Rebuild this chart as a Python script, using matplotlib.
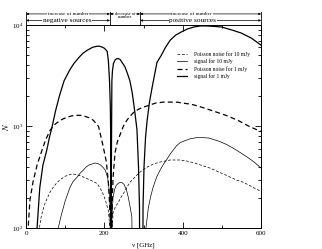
import matplotlib
matplotlib.use('Agg')
import matplotlib.pyplot as plt
from matplotlib.ticker import MultipleLocator, LogLocator, NullFormatter

plt.rcParams['font.family'] = ['Liberation Serif', 'DejaVu Serif']
plt.rcParams['mathtext.fontset'] = 'stix'

# frequencies [GHz] and number of sources
# (N = 1 marks a zero crossing; it lies far below the axis)
nu_sig1 = [25, 28, 35, 43, 53, 60, 66, 75, 85, 97, 112, 122, 135, 145, 156, 170, 181, 188, 195, 200, 207, 210,
           213, 215, 216, 216.8, 217,
           217.6, 218.3, 219, 220.5, 223, 228, 234, 240, 245, 252, 258, 265, 271, 278, 283, 287, 289.5, 291,
           297, 298.5, 301, 305, 309, 315, 322, 334, 345, 356, 368, 382, 396, 412, 429, 445, 460, 480, 498,
           525, 549, 575, 600]
n_sig1 = [30, 100, 251, 417, 589, 794, 977, 1413, 1995, 2818, 3631, 4169, 4786, 5248, 5623, 6026, 6166, 6166, 6026,
          5888, 5495, 4467, 2818, 1585, 794, 158, 1,
          316, 1000, 2818, 3548, 4169, 4571, 4677, 4571, 4266, 3890, 3388, 2818, 2138, 1349, 933, 398, 158, 1,
          1, 158, 398, 794, 1148, 1738, 2455, 4266, 5012, 6026, 7079, 7943, 8511, 9120, 9550, 9772, 9772, 9660,
          9550, 8913, 8318, 7413, 6310]

nu_noise1 = [4, 6, 10, 18, 28, 40, 50, 61, 70, 80, 92, 104, 117, 130, 140, 150, 162, 172, 185, 197, 205, 210, 213,
             215, 217,
             219.5, 222, 227, 233, 240, 248, 257, 265, 275, 287, 299, 315, 330, 350, 370, 385, 400, 420, 440, 472,
             510, 541, 570, 600]
n_noise1 = [32, 112, 191, 288, 417, 575, 741, 912, 1023, 1096, 1175, 1230, 1274, 1288, 1288, 1259, 1216, 1148, 1000,
            631, 447, 282, 178, 100, 1,
            158, 316, 550, 708, 832, 1000, 1148, 1259, 1380, 1479, 1549, 1622, 1698, 1738, 1738, 1738, 1698, 1660,
            1585, 1445, 1288, 1148, 1000, 891]

nu_sig10 = [80, 82, 90, 100, 112, 120, 130, 138, 146, 153, 160, 168, 176, 183, 190, 196, 202, 208, 212, 215, 217,
            219, 222, 226, 230, 235, 240, 245, 250, 256, 261, 266, 270, 274, 303, 306, 312, 318, 324, 333, 342, 351,
            360, 368, 376, 384, 393, 405, 420, 435, 452, 466, 480, 496, 513, 527, 540, 552, 564, 575, 585, 600]
n_sig10 = [60, 100, 135, 186, 251, 288, 316, 347, 372, 398, 417, 427, 437, 432, 417, 398, 372, 316, 240, 141, 1,
           126, 200, 240, 263, 275, 282, 280, 269, 240, 200, 158, 129, 1, 1, 100, 158, 204, 251, 316, 372, 427,
           479, 537, 589, 646, 692, 724, 759, 776, 776, 770, 741, 708, 661, 617, 575, 537, 501, 468, 437, 389]

nu_noise10 = [30, 34, 38, 43, 49, 55, 62, 69, 77, 85, 92, 100, 107, 115, 125, 135, 148, 160, 171, 181, 188, 195,
              203, 210, 214, 217,
              220, 222, 228, 235, 242, 250, 257, 265, 275, 285, 297, 309, 325, 342, 355, 368, 380, 393, 410, 430,
              450, 470, 487, 505, 522, 539, 555, 570, 585, 600]
n_noise10 = [50, 100, 126, 151, 178, 200, 229, 251, 275, 295, 309, 324, 331, 339, 339, 331, 316, 302, 288, 275,
             251, 224, 186, 148, 100, 1,
             100, 141, 162, 178, 200, 224, 251, 282, 309, 339, 372, 398, 427, 447, 457, 468, 468, 468, 457, 437,
             412, 389, 363, 339, 316, 295, 282, 263, 245, 229]

labels = ['Poisson noise for 10 mJy', 'signal for 10 mJy', 'Poisson noise for 1 mJy', 'signal for 1 mJy']

fig = plt.figure(figsize=(3.22, 2.49), dpi=100)
ax = fig.add_axes([0.081, 0.084, 0.730, 0.816])

ax.plot(nu_noise10, n_noise10, color='k', lw=0.5, dashes=(4, 2.5), label=labels[0])
ax.plot(nu_sig10, n_sig10, color='k', lw=0.5, label=labels[1])
ax.plot(nu_noise1, n_noise1, color='k', lw=0.9, dashes=(4, 2.5), label=labels[2])
ax.plot(nu_sig1, n_sig1, color='k', lw=0.9, label=labels[3])

ax.set_yscale('log')
ax.set_xlim(0, 600)
ax.set_ylim(100, 10000)
ax.xaxis.set_major_locator(MultipleLocator(200))
ax.xaxis.set_minor_locator(MultipleLocator(100))
ax.yaxis.set_minor_locator(LogLocator(subs=range(2, 10)))
ax.yaxis.set_minor_formatter(NullFormatter())
ax.tick_params(which='both', direction='in', top=True, right=True, labelsize=5, width=0.6, pad=2)
ax.tick_params(which='major', length=4)
ax.tick_params(which='minor', length=2)
for s in ax.spines.values():
    s.set_linewidth(0.7)

ax.set_xlabel('ν [GHz]', fontsize=5, labelpad=5)
ax.set_ylabel('$N$', fontsize=6, labelpad=1)

ax.legend(loc='upper left', bbox_to_anchor=(0.63, 0.885), frameon=False, fontsize=4,
          handlelength=1.8, handletextpad=1.3, labelspacing=0.35, borderpad=0)

# header with the ranges above the axes
trans = ax.get_xaxis_transform()
edges = [0, 214, 291, 600]
for x in edges:
    ax.plot([x, x], [1.0, 1.065], transform=trans, color='k', lw=0.6, clip_on=False)

def span(x0, x1, y):
    ax.annotate('', xy=(x1, y), xytext=(x0, y), xycoords=trans, textcoords=trans,
                arrowprops=dict(arrowstyle='<|-|>', lw=0.5, color='k', shrinkA=0, shrinkB=0,
                                mutation_scale=3), annotation_clip=False)

row1, row2 = 1.054, 1.022
span(0, 214, row1)
span(214, 291, row1)
span(291, 600, row1)
span(0, 214, row2)
span(291, 600, row2)

box = dict(facecolor='white', edgecolor='none', pad=0.3)
ax.text(107, row1, 'increase of number', transform=trans, fontsize=3.8, ha='center', va='center', bbox=box)
ax.text(423, row1, 'increase of number', transform=trans, fontsize=3.8, ha='center', va='center', bbox=box)
ax.text(253, row1 - 0.008, 'decrease of\nnumber', transform=trans, fontsize=3.3, ha='center', va='center',
        linespacing=0.8, bbox=box)
ax.text(105, row2, 'negative sources', transform=trans, fontsize=5.2, ha='center', va='center', bbox=box)
ax.text(425, row2, 'positive sources', transform=trans, fontsize=5.2, ha='center', va='center', bbox=box)

fig.savefig('out.png', dpi=100)
